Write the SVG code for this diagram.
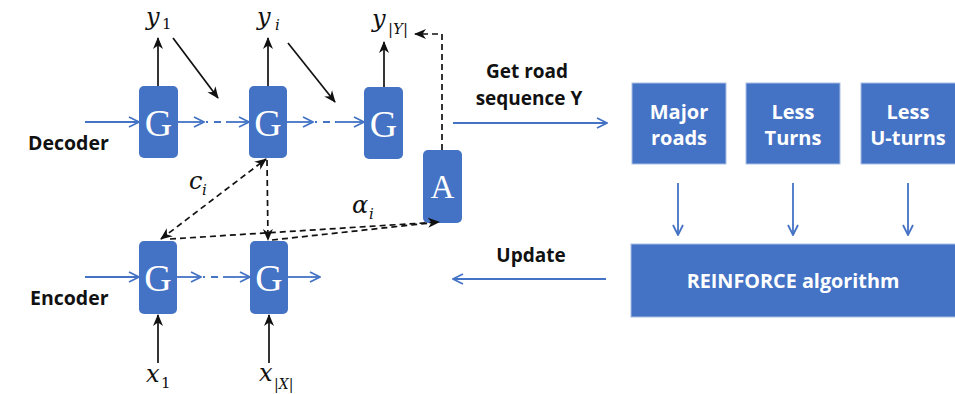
<svg xmlns="http://www.w3.org/2000/svg" width="955" height="394" viewBox="0 0 955 394">
  <style>
    .cell { fill: #4472C4; }
    .box { fill: #4472C4; stroke: #A9BEE3; stroke-width: 1; }
    .gl { font-family: "Liberation Serif", serif; fill: #fff; text-anchor: middle; }
    .lbl { font-family: "Open Sans", "Liberation Sans", sans-serif; font-weight: bold; font-size: 19.5px; fill: #111; }
    .bt { font-family: "Open Sans", "Liberation Sans", sans-serif; font-weight: bold; font-size: 20px; fill: #fff; text-anchor: middle; }
    .math { font-family: "DejaVu Serif", serif; font-style: italic; font-size: 24px; fill: #111; }
    .sub { font-family: "DejaVu Serif", serif; font-size: 15px; fill: #111; }
    .flow { stroke: #4472C4; stroke-width: 1.8; fill: none; }
    .solid { stroke: #111; stroke-width: 1.7; fill: none; }
    .dash { stroke: #111; stroke-width: 1.7; fill: none; stroke-dasharray: 6 4; }
  </style>
  <defs>
    <marker id="ab" viewBox="0 0 12 12" refX="11" refY="6" markerWidth="12" markerHeight="12" markerUnits="userSpaceOnUse" orient="auto">
      <path d="M1,1 L11,6 L1,11" fill="none" stroke="#4472C4" stroke-width="1.8"/>
    </marker>
    <marker id="ak" viewBox="0 0 12 12" refX="11" refY="6" markerWidth="12" markerHeight="12" markerUnits="userSpaceOnUse" orient="auto-start-reverse">
      <path d="M0,1 L12,6 L0,11 L3.5,6 Z" fill="#111"/>
    </marker>
  </defs>

  <!-- side labels -->
  <text class="lbl" x="28" y="150">Decoder</text>
  <text class="lbl" x="30" y="305">Encoder</text>

  <!-- decoder cells -->
  <g id="dec-g1"><rect class="cell" x="139" y="86" width="39" height="72" rx="5"/><text class="gl" x="158.5" y="136" font-size="38">G</text></g>
  <g id="dec-g2"><rect class="cell" x="249" y="86" width="38" height="72" rx="5"/><text class="gl" x="268" y="136" font-size="38">G</text></g>
  <g id="dec-g3"><rect class="cell" x="364" y="87" width="39" height="72" rx="5"/><text class="gl" x="383.5" y="137" font-size="38">G</text></g>

  <!-- attention -->
  <g id="attn"><rect class="cell" x="423" y="150" width="39" height="73" rx="5"/><text class="gl" x="442.5" y="198" font-size="33">A</text></g>

  <!-- encoder cells -->
  <g id="enc-g1"><rect class="cell" x="139" y="241" width="38" height="73" rx="5"/><text class="gl" x="158" y="291" font-size="38">G</text></g>
  <g id="enc-g2"><rect class="cell" x="250" y="241" width="38" height="73" rx="5"/><text class="gl" x="269" y="291" font-size="38">G</text></g>

  <!-- output / input symbols -->
  <g id="y1"><text class="math" x="146" y="25">y</text><text class="sub" x="162" y="29">1</text></g>
  <g id="yi"><text class="math" x="257" y="25">y</text><text class="sub" x="275" y="30" font-style="italic">i</text></g>
  <g id="yY"><text class="math" x="372" y="27">y</text><text class="sub" x="388" y="34">|<tspan font-style="italic">Y</tspan>|</text></g>
  <g id="x1"><text class="math" x="146" y="382">x</text><text class="sub" x="161" y="388">1</text></g>
  <g id="xX"><text class="math" x="259" y="381">x</text><text class="sub" x="274" y="389" style="font-size:14px">|<tspan font-style="italic">X</tspan>|</text></g>
  <g id="ci"><text class="math" x="189" y="189">c</text><text class="sub" x="202" y="195" font-style="italic">i</text></g>
  <g id="ai"><text class="math" x="352" y="213">α</text><text class="sub" x="369" y="219" font-style="italic">i</text></g>

  <!-- reward boxes -->
  <g id="major"><rect class="box" x="632" y="83" width="94" height="81"/><text class="bt" x="679" y="119">Major</text><text class="bt" x="679" y="145">roads</text></g>
  <g id="turns"><rect class="box" x="746" y="83" width="94" height="81"/><text class="bt" x="793" y="119">Less</text><text class="bt" x="793" y="145">Turns</text></g>
  <g id="uturns"><rect class="box" x="861" y="83" width="95" height="81"/><text class="bt" x="908" y="119">Less</text><text class="bt" x="908" y="145">U-turns</text></g>
  <g id="reinforce"><rect class="box" x="631" y="244" width="325" height="73"/><text class="bt" x="793" y="288" style="font-size:19.8px">REINFORCE algorithm</text></g>

  <!-- edge labels -->
  <text class="lbl" x="527" y="78" text-anchor="middle" style="font-size:19px">Get road</text>
  <text class="lbl" x="529" y="105" text-anchor="middle" style="font-size:19px">sequence Y</text>
  <text class="lbl" x="531" y="262" text-anchor="middle" style="font-size:19px">Update</text>

  <g id="connectors">
    <!-- decoder recurrence -->
    <line class="flow" x1="85" y1="122" x2="139" y2="122" marker-end="url(#ab)"/>
    <line class="flow" x1="178" y1="122" x2="204" y2="122" marker-end="url(#ab)"/>
    <line class="flow" x1="206" y1="122" x2="226" y2="122" stroke-dasharray="2 6 7 5"/>
    <line class="flow" x1="226" y1="122" x2="249" y2="122" marker-end="url(#ab)"/>
    <line class="flow" x1="287" y1="122" x2="313" y2="122" marker-end="url(#ab)"/>
    <line class="flow" x1="315" y1="122" x2="336" y2="122" stroke-dasharray="2 6 7 5"/>
    <line class="flow" x1="336" y1="122" x2="364" y2="122" marker-end="url(#ab)"/>

    <!-- encoder recurrence -->
    <line class="flow" x1="85" y1="277" x2="139" y2="277" marker-end="url(#ab)"/>
    <line class="flow" x1="177" y1="277" x2="201" y2="277" marker-end="url(#ab)"/>
    <line class="flow" x1="203" y1="277" x2="223" y2="277" stroke-dasharray="2 6 7 5"/>
    <line class="flow" x1="223" y1="277" x2="250" y2="277" marker-end="url(#ab)"/>
    <line class="flow" x1="288" y1="277" x2="320" y2="277" marker-end="url(#ab)"/>

    <!-- outputs -->
    <line class="solid" x1="158" y1="86" x2="158" y2="38" marker-end="url(#ak)"/>
    <line class="solid" x1="268" y1="86" x2="268" y2="38" marker-end="url(#ak)"/>
    <line class="solid" x1="384" y1="87" x2="384" y2="42" marker-end="url(#ak)"/>
    <line class="solid" x1="173" y1="38" x2="218" y2="98" marker-end="url(#ak)"/>
    <line class="solid" x1="288" y1="43" x2="335" y2="102" marker-end="url(#ak)"/>

    <!-- inputs -->
    <line class="solid" x1="158" y1="363" x2="158" y2="315" marker-end="url(#ak)"/>
    <line class="solid" x1="269" y1="363" x2="269" y2="315" marker-end="url(#ak)"/>

    <!-- attention context -->
    <line class="dash" x1="161" y1="239" x2="266" y2="159" marker-start="url(#ak)" marker-end="url(#ak)"/>
    <line class="dash" x1="267" y1="160" x2="268" y2="240" marker-end="url(#ak)"/>
    <line class="dash" x1="170" y1="239" x2="439" y2="222" marker-end="url(#ak)"/>
    <line class="dash" x1="272" y1="240" x2="439" y2="222"/>
    <path class="dash" d="M442,150 V34 H415" marker-end="url(#ak)"/>

    <!-- reward loop -->
    <line class="flow" x1="453" y1="123" x2="607" y2="123" marker-end="url(#ab)"/>
    <line class="flow" x1="678" y1="183" x2="678" y2="235" marker-end="url(#ab)"/>
    <line class="flow" x1="793" y1="183" x2="793" y2="235" marker-end="url(#ab)"/>
    <line class="flow" x1="908" y1="183" x2="908" y2="235" marker-end="url(#ab)"/>
    <line class="flow" x1="606" y1="279" x2="453" y2="279" marker-end="url(#ab)"/>
  </g>
</svg>
